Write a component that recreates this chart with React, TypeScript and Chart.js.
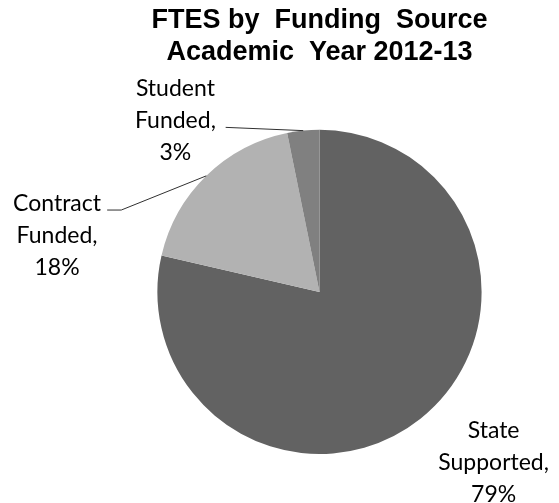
import React, { useEffect, useRef } from "react";
import { Chart, registerables } from "chart.js";

Chart.register(...registerables);

const categories: string[] = ["State Supported", "Contract Funded", "Student Funded"];
const values: number[] = [78.6, 18.2, 3.2];
const sliceColors: string[] = ["#626262", "#b2b2b2", "#808080"];
const titleLines: string[] = ["FTES by  Funding  Source", "Academic  Year 2012-13"];

// label placement relative to pie centre, in units of the outer radius
// [centreX, firstBaselineY, leader start x, leader start y, elbow x]
const labelLayout: (number[] | null)[] = [
  [1.074, 0.901],
  [-1.619, -0.5, -1.31, -0.505, -1.223],
  [-0.889, -1.206, -0.579, -1.015],
];

const labelPlugin = {
  id: "pieLabels",
  afterDatasetsDraw(chart: any) {
    const ctx = chart.ctx as CanvasRenderingContext2D;
    const meta = chart.getDatasetMeta(0);
    const data = chart.data.datasets[0].data as number[];
    const total = data.reduce((a, b) => a + b, 0);
    ctx.save();
    ctx.font = "23px Lato";
    ctx.fillStyle = "#000000";
    ctx.textAlign = "center";
    ctx.textBaseline = "alphabetic";
    meta.data.forEach((arc: any, i: number) => {
      const lay = labelLayout[i];
      if (!lay) return;
      const { x, y, startAngle, endAngle, outerRadius: R } = arc.getProps(
        ["x", "y", "startAngle", "endAngle", "outerRadius"],
        true
      );
      const words = (chart.data.labels[i] as string).split(" ");
      const lines = words.map((w: string, k: number) => (k === words.length - 1 ? w + "," : w));
      lines.push(Math.round((data[i] / total) * 100) + "%");
      const lx = x + lay[0] * R;
      const ly = y + lay[1] * R;
      lines.forEach((t: string, k: number) => ctx.fillText(t, lx, ly + k * 32));
      if (lay.length >= 4) {
        const mid = (startAngle + endAngle) / 2;
        const ex = x + Math.cos(mid) * R;
        const ey = y + Math.sin(mid) * R;
        ctx.beginPath();
        ctx.strokeStyle = "#303030";
        ctx.lineWidth = 1;
        ctx.moveTo(x + lay[2] * R, y + lay[3] * R);
        if (lay.length >= 5) ctx.lineTo(x + lay[4] * R, y + lay[3] * R);
        ctx.lineTo(ex, ey);
        ctx.stroke();
      }
    });
    ctx.restore();
  },
};

export default function App() {
  const ref = useRef<HTMLCanvasElement | null>(null);
  useEffect(() => {
    if (!ref.current) return;
    const chart = new Chart(ref.current, {
      type: "pie",
      data: {
        labels: categories,
        datasets: [
          {
            data: values,
            backgroundColor: sliceColors,
            borderWidth: 0,
          },
        ],
      },
      options: {
        animation: false,
        responsive: true,
        maintainAspectRatio: false,
        layout: { padding: { left: 80, right: 0, top: 0, bottom: 49 } },
        plugins: {
          legend: { display: false },
          tooltip: { enabled: false },
          title: {
            display: true,
            text: titleLines,
            color: "#000000",
            font: { family: "'Liberation Sans', Arial, sans-serif", size: 27, weight: "bold", lineHeight: 1.2 },
            padding: { top: 4, bottom: 61 },
          },
        },
      },
      plugins: [labelPlugin],
    });
    return () => chart.destroy();
  }, []);
  return (
    <div style={{ position: "absolute", left: 0, top: 0, width: 559, height: 503, background: "#ffffff" }}>
      <canvas ref={ref} />
    </div>
  );
}
